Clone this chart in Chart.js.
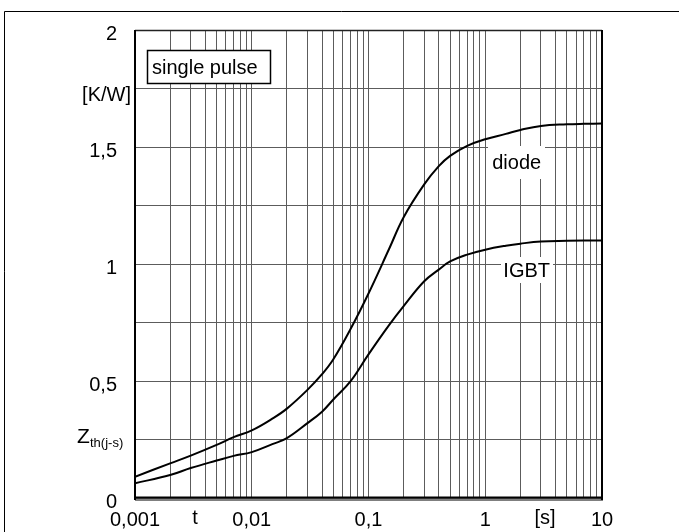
<!DOCTYPE html>
<html>
<head>
<meta charset="utf-8">
<script src="https://cdn.jsdelivr.net/npm/chart.js@4/dist/chart.umd.min.js"></script>
<style>
  html, body { margin: 0; padding: 0; background: #fff; }
  #wrap { width: 679px; height: 532px; }
</style>
</head>
<body>
<div id="wrap"><canvas id="c" width="679" height="532"></canvas></div>
<script>
// time values [s]
const tValues = [0.001, 0.002, 0.003, 0.005, 0.007, 0.01, 0.015, 0.02, 0.03, 0.04, 0.05, 0.07, 0.1, 0.15, 0.2, 0.3, 0.4, 0.5, 0.7, 1, 1.5, 2, 3, 5, 7, 10];
// Zth(j-s) [K/W]
const diodeValues = [0.091, 0.148, 0.181, 0.227, 0.260, 0.289, 0.339, 0.382, 0.462, 0.529, 0.593, 0.721, 0.874, 1.064, 1.200, 1.340, 1.418, 1.462, 1.505, 1.533, 1.556, 1.573, 1.590, 1.597, 1.599, 1.600];
const igbtValues  = [0.063, 0.098, 0.128, 0.160, 0.180, 0.196, 0.230, 0.256, 0.320, 0.369, 0.421, 0.498, 0.614, 0.739, 0.820, 0.926, 0.976, 1.011, 1.040, 1.061, 1.078, 1.087, 1.096, 1.099, 1.100, 1.100];

// x grid lines (log decades) and labelled ticks
const xGridValues = [0.001,0.002,0.003,0.004,0.005,0.006,0.007,0.008,0.009,
                     0.01,0.02,0.03,0.04,0.05,0.06,0.07,0.08,0.09,
                     0.1,0.2,0.3,0.4,0.5,0.6,0.7,0.8,0.9,
                     1,2,3,4,5,6,7,8,9,10];
const xLabelValues = [0.001, 0.01, 0.1, 1, 10];
const xLabelTexts  = ['0,001', '0,01', '0,1', '1', '10'];
const yLabelValues = [0, 0.5, 1, 1.5, 2];
const yLabelTexts  = ['0', '0,5', '1', '1,5', '2'];

const FONT = "'Liberation Sans', Arial, Helvetica, sans-serif";

function toPoints(xs, ys) { return xs.map((x, i) => ({ x: x, y: ys[i] })); }

const decorPlugin = {
  id: 'decor',
  beforeDraw(chart) {
    const ctx = chart.ctx;
    ctx.save();
    ctx.fillStyle = '#fff';
    ctx.fillRect(0, 0, chart.width, chart.height);
    ctx.strokeStyle = '#000';
    ctx.lineWidth = 1;
    ctx.beginPath();
    ctx.moveTo(4.5, chart.height);
    ctx.lineTo(4.5, 11.5);
    ctx.lineTo(chart.width, 11.5);
    ctx.stroke();
    ctx.restore();
  },
  afterDatasetsDraw(chart) {
    const ctx = chart.ctx;
    const a = chart.chartArea;
    ctx.save();
    // frame
    ctx.strokeStyle = '#222';
    ctx.lineWidth = 1.5;
    ctx.beginPath(); ctx.moveTo(a.left, a.top + 0.5); ctx.lineTo(a.right, a.top + 0.5); ctx.stroke();
    ctx.strokeStyle = '#000';
    ctx.lineWidth = 2;
    ctx.beginPath(); ctx.moveTo(a.left, a.top); ctx.lineTo(a.left, a.bottom + 2); ctx.stroke();
    ctx.beginPath(); ctx.moveTo(a.right, a.top); ctx.lineTo(a.right, a.bottom + 2); ctx.stroke();
    ctx.beginPath(); ctx.moveTo(a.left, a.bottom - 0.5); ctx.lineTo(a.right + 1, a.bottom - 0.5); ctx.stroke();
    ctx.lineWidth = 1;
    ctx.beginPath(); ctx.moveTo(a.left, a.bottom + 2); ctx.lineTo(a.right + 1, a.bottom + 2); ctx.stroke();

    // curve labels with white background
    ctx.fillStyle = '#fff';
    ctx.fillRect(488, 146, 57, 33);
    ctx.fillRect(501, 257, 52, 26);
    ctx.fillStyle = '#000';
    ctx.font = '20px ' + FONT;
    ctx.textAlign = 'center';
    ctx.textBaseline = 'middle';
    ctx.fillText('diode', 516.7, 163);
    ctx.fillText('IGBT', 526.7, 271.5);

    // single pulse box
    ctx.fillStyle = '#fff';
    ctx.fillRect(147, 50, 124, 34);
    ctx.strokeStyle = '#000';
    ctx.lineWidth = 1.5;
    ctx.strokeRect(147.5, 50.5, 123, 33);
    ctx.fillStyle = '#000';
    ctx.textAlign = 'left';
    ctx.fillText('single pulse', 152, 68);

    // axis unit labels
    ctx.textAlign = 'right';
    ctx.fillText('[K/W]', 131, 95);
    ctx.textAlign = 'left';
    ctx.font = '21px ' + FONT;
    ctx.fillText('Z', 77, 437);
    ctx.font = '13px ' + FONT;
    ctx.fillText('th(j-s)', 90, 443);

    ctx.font = '20px ' + FONT;
    ctx.textAlign = 'center';
    ctx.textBaseline = 'top';
    ctx.fillText('t', 195, 508);
    ctx.fillText('[s]', 545, 508);
    ctx.restore();
  }
};

const chart = new Chart(document.getElementById('c'), {
  type: 'line',
  data: {
    datasets: [
      { label: 'diode', data: toPoints(tValues, diodeValues), borderColor: '#000', borderWidth: 2,
        pointRadius: 0, tension: 0.4, fill: false },
      { label: 'IGBT', data: toPoints(tValues, igbtValues), borderColor: '#000', borderWidth: 2,
        pointRadius: 0, tension: 0.4, fill: false }
    ]
  },
  options: {
    responsive: false,
    animation: false,
    layout: { padding: { left: 0, top: 29, right: 77, bottom: 0 } },
    plugins: { legend: { display: false }, tooltip: { enabled: false } },
    scales: {
      x: {
        type: 'logarithmic',
        min: 0.001, max: 10,
        afterBuildTicks(scale) { scale.ticks = xGridValues.map(v => ({ value: v })); },
        afterFit(scale) { scale.height = 34; },
        border: { display: false },
        grid: { color: '#5c5c5c', lineWidth: 1, drawTicks: false },
        ticks: {
          autoSkip: false, maxRotation: 0, minRotation: 0, padding: 10,
          color: '#000', font: { family: FONT, size: 20 },
          callback(value) {
            const i = xLabelValues.findIndex(v => Math.abs(v - value) < 1e-12);
            return i >= 0 ? xLabelTexts[i] : '';
          }
        }
      },
      y: {
        type: 'linear',
        min: 0, max: 2,
        afterFit(scale) { scale.width = 135; },
        border: { display: false },
        grid: { color: '#5c5c5c', lineWidth: 1, drawTicks: false },
        ticks: {
          stepSize: 0.25, autoSkip: false, padding: 18, labelOffset: 4,
          color: '#000', font: { family: FONT, size: 20 },
          callback(value) {
            const i = yLabelValues.findIndex(v => Math.abs(v - value) < 1e-9);
            return i >= 0 ? yLabelTexts[i] : '';
          }
        }
      }
    }
  },
  plugins: [decorPlugin]
});
</script>
</body>
</html>
